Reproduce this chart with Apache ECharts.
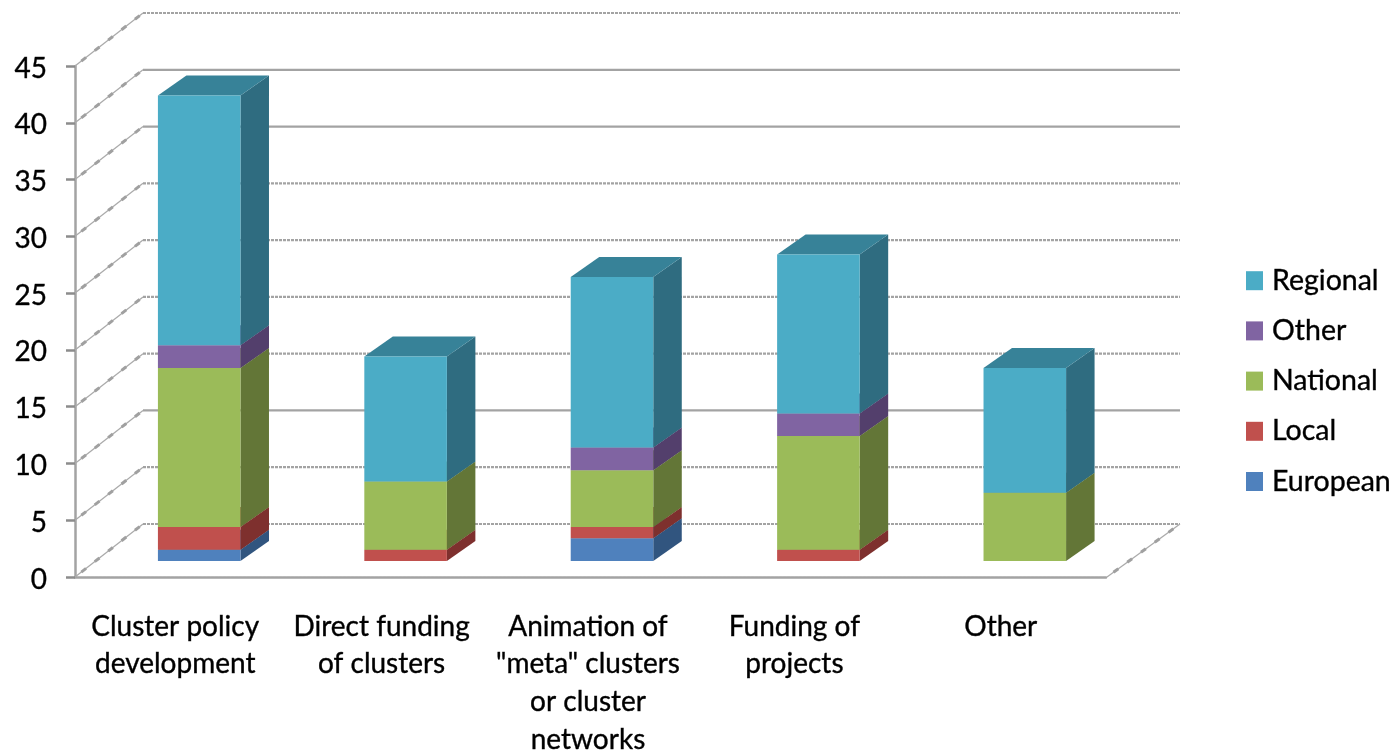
<!DOCTYPE html>
<html>
<head>
<meta charset="utf-8">
<title>Chart</title>
<script src="https://cdn.jsdelivr.net/npm/echarts@6/dist/echarts.min.js"></script>
<style>
html, body { margin: 0; padding: 0; background: #fff; }
#main { width: 1394px; height: 750px; }
</style>
</head>
<body>
<div id="main"></div>
<script>
var categories = ['Cluster policy\ndevelopment', 'Direct funding\nof clusters', 'Animation of\n"meta" clusters\nor cluster\nnetworks', 'Funding of\nprojects', 'Other'];
var european = [1, 0, 2, 0, 0];
var local = [2, 1, 1, 1, 0];
var national = [14, 6, 5, 10, 6];
var other = [2, 0, 2, 2, 0];
var regional = [22, 11, 15, 14, 11];
var yTicks = [0, 5, 10, 15, 20, 25, 30, 35, 40, 45];
var legendOrder = ['Regional', 'Other', 'National', 'Local', 'European'];

// pixel offsets of the fake 3d look
var wallDx = 68, wallDy = -53;
var barDx = 21, barDy = -16;
var depthDx = 28.5, depthDy = -20;
var font = 'Lato';
var gridGrey = '#a3a3a3';
var solidTicks = [10, 35, 40];

var chart = echarts.init(document.getElementById('main'), null, { renderer: 'canvas' });

var stackOrder = [
    { name: 'European', values: european, front: '#4f81bd', side: '#31557f', top: '#3b6390' },
    { name: 'Local', values: local, front: '#c0504d', side: '#7e302e', top: '#93403d' },
    { name: 'National', values: national, front: '#9bbb59', side: '#637637', top: '#758c43' },
    { name: 'Other', values: other, front: '#8064a2', side: '#533f6c', top: '#604b7b' },
    { name: 'Regional', values: regional, front: '#4bacc6', side: '#2f6c80', top: '#378298' }
];

function diagonal(x1, y1, x2, y2) {
    return [
        { type: 'line', shape: { x1: x1, y1: y1, x2: x2, y2: y2 }, style: { stroke: '#ababab', lineWidth: 1.3 } },
        { type: 'line', shape: { x1: x1, y1: y1, x2: x2, y2: y2 }, style: { stroke: '#a0a0a0', lineWidth: 3, lineDash: [6, 11], lineDashOffset: -8 } }
    ];
}

function wallLines(params, api) {
    var v = api.value(0);
    var box = params.coordSys;
    var p = api.coord([0, v]);
    var y = p[1];
    var xl = box.x;
    var xr = box.x + box.width;
    var dash = solidTicks.indexOf(v) >= 0 ? null : [3, 1];
    var kids = diagonal(xl, y, xl + wallDx, y + wallDy);
    kids.push({ type: 'line', shape: { x1: xl + wallDx, y1: y + wallDy, x2: xr + 73, y2: y + wallDy }, style: { stroke: gridGrey, lineWidth: 2.2, lineDash: dash } });
    if (v === 0) {
        kids = kids.concat(diagonal(xr, y, xr + 73, y + wallDy));
    }
    return { type: 'group', children: kids };
}

function makeBox(item) {
    return function (params, api) {
        var idx = api.value(0);
        var base = api.value(1);
        var val = api.value(2);
        if (!val) {
            return null;
        }
        var w = api.size([1, 0])[0] * 0.4;
        var c0 = api.coord([idx, base]);
        var c1 = api.coord([idx, base + val]);
        var x0 = c0[0] + barDx - w / 2;
        var x1 = x0 + w;
        var y0 = c0[1] + barDy;
        var y1 = c1[1] + barDy;
        return {
            type: 'group',
            children: [
                { type: 'polygon', shape: { points: [[x1, y0], [x1 + depthDx, y0 + depthDy], [x1 + depthDx, y1 + depthDy], [x1, y1]] }, style: { fill: item.side } },
                { type: 'polygon', shape: { points: [[x0, y1], [x1, y1], [x1 + depthDx, y1 + depthDy], [x0 + depthDx, y1 + depthDy]] }, style: { fill: item.top } },
                { type: 'rect', shape: { x: x0, y: y1, width: w, height: y0 - y1 }, style: { fill: item.front } }
            ]
        };
    };
}

var series = [{
    type: 'custom',
    name: 'walls',
    silent: true,
    z: 1,
    renderItem: wallLines,
    encode: { y: 0 },
    data: yTicks.map(function (t) { return [t]; })
}];

var running = categories.map(function () { return 0; });
stackOrder.forEach(function (item) {
    var rows = item.values.map(function (v, i) {
        var row = [i, running[i], v];
        running[i] += v;
        return row;
    });
    series.push({
        type: 'custom',
        name: item.name,
        z: 3,
        itemStyle: { color: item.front },
        renderItem: makeBox(item),
        encode: { x: 0, y: 1 },
        data: rows
    });
});

var option = {
    animation: false,
    backgroundColor: '#fff',
    grid: { left: 75, top: 66, width: 1032, height: 511, containLabel: false, outerBoundsMode: 'none' },
    legend: {
        orient: 'vertical',
        left: 1241,
        top: 261,
        itemWidth: 17,
        itemHeight: 19,
        itemGap: 20.8,
        icon: 'rect',
        selectedMode: false,
        data: legendOrder,
        textStyle: { fontFamily: font, fontSize: 28.5, color: '#000', padding: [2, 0, 0, 4], textBorderColor: '#222', textBorderWidth: 0.4 }
    },
    xAxis: {
        type: 'category',
        data: categories,
        axisLine: { lineStyle: { color: gridGrey, width: 2.5, type: [3, 1] } },
        axisTick: { alignWithLabel: false, length: 9, lineStyle: { color: '#8c8c8c', width: 2.5 } },
        axisLabel: { interval: 0, margin: 31, fontFamily: font, fontSize: 28, color: '#000', lineHeight: 37.6, padding: [0, 6, 0, 0], textBorderColor: '#222', textBorderWidth: 0.4 }
    },
    yAxis: {
        type: 'value',
        min: 0,
        max: 45,
        interval: 5,
        splitLine: { show: false },
        axisLine: { show: true, lineStyle: { color: gridGrey, width: 2.5 } },
        axisTick: { show: true, length: 9, lineStyle: { color: '#8c8c8c', width: 2.5 } },
        axisLabel: { margin: 28, fontFamily: font, fontSize: 28, color: '#000', verticalAlign: 'top', lineHeight: 5, textBorderColor: '#222', textBorderWidth: 0.4 }
    },
    series: series
};

chart.setOption(option);
</script>
</body>
</html>
